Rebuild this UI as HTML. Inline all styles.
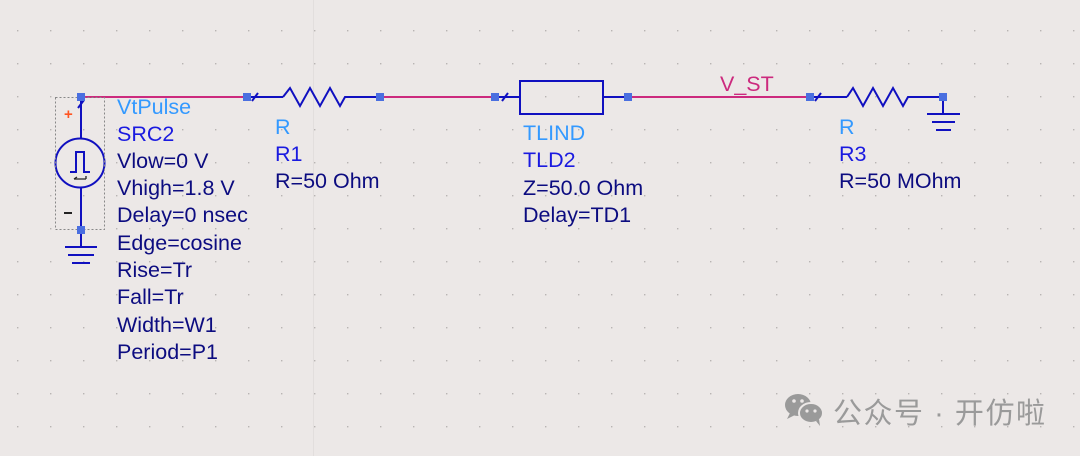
<!DOCTYPE html>
<html><head><meta charset="utf-8"><style>
html,body{margin:0;padding:0;background:#ece8e7;}
svg{display:block;}
text{font-family:"Liberation Sans","Noto Sans CJK SC",sans-serif;font-size:21.5px;}
</style></head><body>
<svg width="1080" height="456" viewBox="0 0 1080 456" xmlns="http://www.w3.org/2000/svg">
<defs>
<pattern id="g" x="17" y="63" width="33" height="33" patternUnits="userSpaceOnUse">
<rect x="0" y="0" width="1.4" height="1.4" fill="#b8b4b3"/>
</pattern>
</defs>
<rect width="1080" height="456" fill="#ece8e7"/>
<rect width="1080" height="456" fill="url(#g)"/>
<line x1="313.5" y1="0" x2="313.5" y2="456" stroke="#e2dedd" stroke-width="1"/>

<g stroke="#cc2a7e" stroke-width="2" fill="none">
<line x1="81" y1="97" x2="247" y2="97"/>
<line x1="380" y1="97" x2="495" y2="97"/>
<line x1="628" y1="97" x2="810" y2="97"/>
</g>

<g stroke="#1010c0" stroke-width="2" fill="none">
<line x1="81" y1="97" x2="81" y2="138"/>
<line x1="78" y1="108" x2="84" y2="100"/>
<circle cx="80" cy="163" r="24.5"/>
<polyline points="70,172 76,172 76,152 84,152 84,172 90,172"/>
<line x1="81" y1="188" x2="81" y2="247"/>
<line x1="65" y1="247" x2="97" y2="247"/>
<line x1="68" y1="255" x2="94" y2="255"/>
<line x1="72" y1="263" x2="90" y2="263"/>
<line x1="247" y1="97" x2="283" y2="97"/>
<line x1="252" y1="101" x2="258" y2="93"/>
<polyline points="283,97 290,88 300,106 310,88 320,106 330,88 340,106 345,97 380,97"/>
<line x1="495" y1="97" x2="520" y2="97"/>
<line x1="502" y1="101" x2="508" y2="93"/>
<rect x="520" y="81" width="83" height="33"/>
<line x1="603" y1="97" x2="628" y2="97"/>
<line x1="810" y1="97" x2="847" y2="97"/>
<line x1="815" y1="101" x2="821" y2="93"/>
<polyline points="847,97 853,88 863,106 873,88 883,106 893,88 903,106 908,97 943,97"/>
<line x1="943" y1="97" x2="943" y2="114"/>
<line x1="927" y1="114" x2="960" y2="114"/>
<line x1="932" y1="122" x2="955" y2="122"/>
<line x1="936" y1="130" x2="951" y2="130"/>
</g>
<path d="M74,179 L86,179 M74,179 l3,-2 M86,179 v-3" stroke="#222" stroke-width="1.3" fill="none"/>
<rect x="55.5" y="97.5" width="49" height="132" fill="none" stroke="#888" stroke-width="1" stroke-dasharray="2,2"/>
<text x="64" y="119" fill="#ff5522" style="font-size:15px;font-weight:bold">+</text>
<line x1="64" y1="213" x2="72" y2="213" stroke="#222" stroke-width="2"/>

<g fill="#4a6fe0">
<rect x="77" y="93" width="8" height="8"/><rect x="77" y="226" width="8" height="8"/>
<rect x="243" y="93" width="8" height="8"/><rect x="376" y="93" width="8" height="8"/>
<rect x="491" y="93" width="8" height="8"/><rect x="624" y="93" width="8" height="8"/>
<rect x="806" y="93" width="8" height="8"/><rect x="939" y="93" width="8" height="8"/>
</g>

<text x="720" y="91" fill="#cc2a7e">V_ST</text>
<g>
<text x="117" y="114" fill="#3399ff">VtPulse</text>
<text x="117" y="141" fill="#1a1ae0">SRC2</text>
<g fill="#0c0c80">
<text x="117" y="168">Vlow=0 V</text>
<text x="117" y="195">Vhigh=1.8 V</text>
<text x="117" y="222">Delay=0 nsec</text>
<text x="117" y="250">Edge=cosine</text>
<text x="117" y="277">Rise=Tr</text>
<text x="117" y="304">Fall=Tr</text>
<text x="117" y="332">Width=W1</text>
<text x="117" y="359">Period=P1</text>
</g>
<text x="275" y="134" fill="#3399ff">R</text>
<text x="275" y="161" fill="#1a1ae0">R1</text>
<text x="275" y="188" fill="#0c0c80">R=50 Ohm</text>
<text x="523" y="140" fill="#3399ff">TLIND</text>
<text x="523" y="167" fill="#1a1ae0">TLD2</text>
<text x="523" y="195" fill="#0c0c80">Z=50.0 Ohm</text>
<text x="523" y="222" fill="#0c0c80">Delay=TD1</text>
<text x="839" y="134" fill="#3399ff">R</text>
<text x="839" y="161" fill="#1a1ae0">R3</text>
<text x="839" y="188" fill="#0c0c80">R=50 MOhm</text>
</g>

<g fill="#9a9a9a">
<ellipse cx="798" cy="405" rx="13" ry="11"/>
<path d="M790,413 l-3,6 l8,-4z"/>
<ellipse cx="811" cy="413" rx="12" ry="10" stroke="#ece8e7" stroke-width="2"/>
<path d="M816,421 l4,5 l-1,-7z"/>
</g>
<g fill="#ece8e7"><circle cx="794" cy="401" r="1.8"/><circle cx="802" cy="401" r="1.8"/><circle cx="807" cy="411" r="1.6"/><circle cx="815" cy="411" r="1.6"/></g>
<text x="833" y="423" fill="#9a9a9a" style="font-size:29px" textLength="212">公众号 · 开仿啦</text>
</svg>
</body></html>
